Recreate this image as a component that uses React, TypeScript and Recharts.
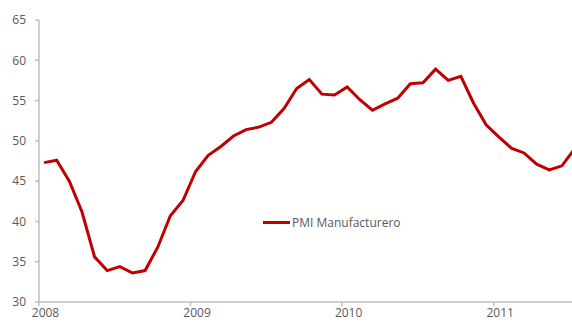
import React from "react";
import { LineChart, Line, XAxis, YAxis } from "recharts";

const seriesName = "PMI Manufacturero";
const yearLabels = ["2008", "2009", "2010", "2011"];
const yTicks = [30, 35, 40, 45, 50, 55, 60, 65];
const pmiValues = [
  47.3, 47.6, 45.0, 41.2, 35.6, 33.9, 34.4, 33.6, 33.9, 36.8, 40.7, 42.6,
  46.2, 48.2, 49.3, 50.6, 51.4, 51.7, 52.3, 54.0, 56.5, 57.6, 55.8, 55.7,
  56.7, 55.1, 53.8, 54.6, 55.3, 57.1, 57.2, 58.9, 57.5, 58.0, 54.7, 52.0,
  50.5, 49.1, 48.5, 47.1, 46.4, 46.9, 49.0,
];

const data = pmiValues.map((v, i) => ({ m: i + 0.4, pmi: v }));
const xTicks = yearLabels.map((_, i) => i * 12);

const FONT = "'Open Sans', 'Noto Sans', sans-serif";
const GRAY_TEXT = "#595959";
const AXIS = "#bfbfbf";
const RED = "#c00000";

export default function App() {
  return (
    <div style={{ position: "absolute", left: 0, top: 0, width: 572, height: 322, background: "#fff" }}>
      <LineChart width={572} height={322} data={data} margin={{ top: 20, right: 0, bottom: 0, left: 0 }}>
        <XAxis
          dataKey="m"
          type="number"
          domain={[0, 42.2]}
          allowDataOverflow
          ticks={xTicks}
          tickFormatter={(v: number) => yearLabels[Math.round(v / 12)]}
          height={20}
          tickSize={4}
          tickMargin={2}
          stroke={AXIS}
          strokeWidth={1.5}
          tick={{ fill: GRAY_TEXT, fontSize: 12, fontFamily: FONT, dx: 6.5 }}
          tickLine={{ stroke: AXIS, strokeWidth: 1.5 }}
        />
        <YAxis
          type="number"
          domain={[30, 65]}
          ticks={yTicks}
          width={39}
          tickSize={4}
          tickMargin={9}
          stroke={AXIS}
          strokeWidth={1.5}
          tick={{ fill: GRAY_TEXT, fontSize: 12, fontFamily: FONT }}
          tickLine={{ stroke: AXIS, strokeWidth: 1.5 }}
        />
        <Line
          dataKey="pmi"
          name={seriesName}
          stroke={RED}
          strokeWidth={3}
          dot={false}
          isAnimationActive={false}
          legendType="plainline"
        />
      </LineChart>
      <div
        style={{
          position: "absolute",
          left: 263,
          top: 214,
          display: "flex",
          alignItems: "center",
          fontFamily: FONT,
          fontSize: 12,
          color: GRAY_TEXT,
          whiteSpace: "nowrap",
        }}
      >
        <span style={{ display: "inline-block", width: 27, height: 3, background: RED, marginRight: 2 }} />
        <span>{seriesName}</span>
      </div>
    </div>
  );
}
